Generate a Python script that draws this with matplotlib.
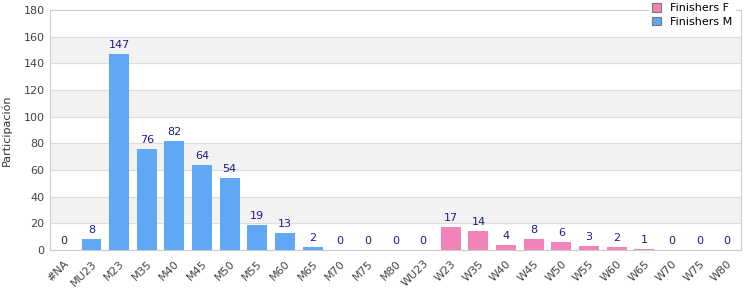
import numpy as np
import matplotlib
matplotlib.use("Agg")
import matplotlib.pyplot as plt

categories = ["#NA", "MU23", "M23", "M35", "M40", "M45", "M50", "M55", "M60", "M65",
              "M70", "M75", "M80", "WU23", "W23", "W35", "W40", "W45", "W50", "W55",
              "W60", "W65", "W70", "W75", "W80"]
finishers_m = [0, 8, 147, 76, 82, 64, 54, 19, 13, 2, 0, 0, 0, 0]
finishers_f = [17, 14, 4, 8, 6, 3, 2, 1, 0, 0, 0]

blue = "#5fa8f5"
pink = "#f283b8"
label_col = "#1c1c8c"

fig = plt.figure(figsize=(7.5, 3), dpi=100)
ax = fig.add_axes([0.0667, 0.1667, 0.9213, 0.8])

x = np.arange(len(categories))
xm = x[:len(finishers_m)]
xf = x[len(finishers_m):]

# bandas alternas
for lo in range(20, 180, 40):
    ax.axhspan(lo, lo + 20, color="#f2f2f2", zorder=0)
for yv in range(20, 180, 20):
    ax.axhline(yv, color="#dddddd", lw=0.8, zorder=1)

bf = ax.bar(xf, finishers_f, width=0.72, color=pink, zorder=2, label="Finishers F")
bm = ax.bar(xm, finishers_m, width=0.72, color=blue, zorder=2, label="Finishers M")

for xs, vals in ((xm, finishers_m), (xf, finishers_f)):
    for xi, v in zip(xs, vals):
        ax.text(xi, v + 3, str(v), ha="center", va="bottom", fontsize=8, color=label_col)

ax.set_xlim(-0.5, len(categories) - 0.5)
ax.set_ylim(0, 180)
ax.set_yticks(range(0, 181, 20))
ax.set_xticks(x)
ax.set_xticklabels(categories, rotation=45, ha="right", rotation_mode="anchor")
ax.tick_params(axis="both", length=0, labelsize=8, colors="#444444", pad=4)
ax.tick_params(axis="x", pad=6)
for s in ax.spines.values():
    s.set_color("#cccccc")
ax.set_ylabel("Participación", fontsize=8, color="#333333", labelpad=8)

leg = ax.legend(handles=[bf, bm], loc="upper right", bbox_to_anchor=(1.0, 1.065),
                fontsize=8, frameon=True, framealpha=1, edgecolor="white",
                handlelength=0.8, handleheight=0.8, borderpad=0.3, labelspacing=0.3,
                handletextpad=0.8)
for h in leg.legend_handles:
    h.set_edgecolor("#777777")
    h.set_linewidth(0.8)
leg.set_zorder(5)

fig.savefig("out.png", dpi=100)
